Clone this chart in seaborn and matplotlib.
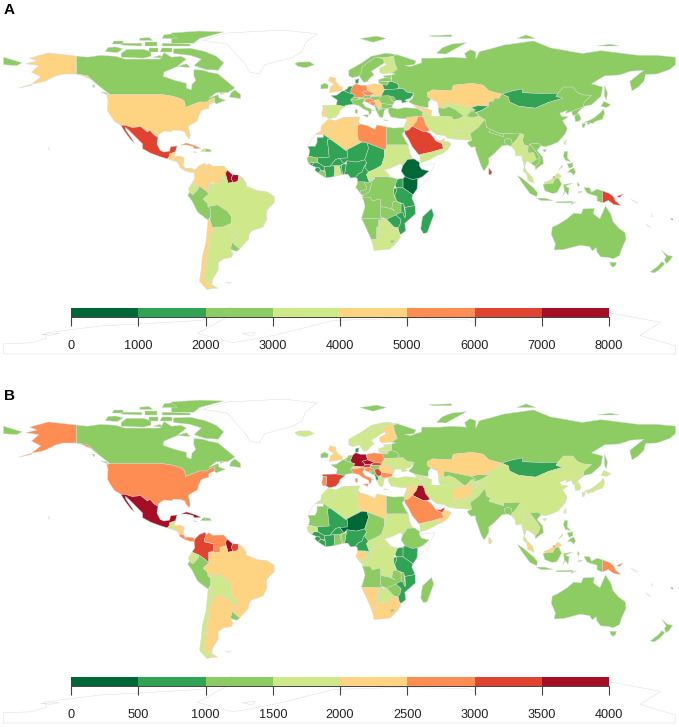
# World maps of two country level measures, binned into eight colour classes
import numpy as np
import pandas as pd
import matplotlib.pyplot as plt
import seaborn as sns
from matplotlib.colors import ListedColormap

sns.set_theme(style="white")
plt.rcParams['font.family'] = ['Liberation Sans', 'DejaVu Sans']

nan = float("nan")

# -----------------------------
# Data
# -----------------------------
north_america = ["Canada", "USA", "Mexico", "Guatemala", "Belize", "Honduras", "El Salvador", "Nicaragua",
                 "Costa Rica", "Panama", "Cuba", "Haiti", "Dominican Rep", "Jamaica"]
north_america_a = [2500, 4500, 6500, 4500, 4500, 4500, 4500, 4500, 4500, 4500, 5500, 3500, 2500, 3500]
north_america_b = [1250, 2750, 3750, 1750, 1750, 2250, 1750, 2250, 2750, 2750, 3750, 1250, 1250, 1750]

south_america = ["Colombia", "Venezuela", "Guyana", "Suriname", "French Guiana", "Ecuador", "Peru", "Bolivia",
                 "Brazil", "Paraguay", "Uruguay", "Argentina", "Chile"]
south_america_a = [4500, 4500, 7500, 7500, 3500, 3500, 2500, 2500, 3500, 3500, 2500, 3500, 4500]
south_america_b = [3250, 2750, 3750, 3250, 2250, 1750, 1250, 1750, 2250, 1750, 1250, 2250, 1750]

europe = ["Iceland", "Ireland", "UK", "Norway", "Sweden", "Finland", "Denmark", "Estonia", "Latvia", "Lithuania",
          "Belarus", "Ukraine", "Moldova", "Poland", "Germany", "France", "Benelux", "Switzerland", "Austria",
          "Czechia", "Slovakia", "Hungary", "Italy", "Spain", "Portugal", "Croatia", "Bosnia", "Serbia",
          "Montenegro", "Albania", "Macedonia", "Greece", "Bulgaria", "Romania", "Turkey", "Russia"]
europe_a = [2500, 2500, 4500, 2500, 2500, 3500, 1500, 2500, 2500, 2500,
            1500, 1500, 2500, 4500, 5500, 1500, 1500, 2500, 2500,
            5500, 4500, 2500, 2500, 3500, 4500, 5500, 5500, 4500,
            2500, 2500, 3500, 2500, 2500, 2500, 2500, 2500]
europe_b = [1750, 1250, 2250, 1750, 1750, 2250, 750, 1750, 1750, 1750,
            1250, 1750, 1750, 2750, 3750, 1250, 1250, 2250, 3250,
            3750, 3250, 1250, 2750, 3250, 2750, 2750, 1250, 3250,
            750, 750, 1750, 1750, 2750, 2250, 1750, 1250]

west_asia = ["Kazakhstan", "Uzbekistan", "Turkmenistan", "Kyrgyzstan", "Tajikistan", "Afghanistan", "Pakistan",
             "Iran", "Azerbaijan", "Georgia", "Armenia", "Iraq", "Syria", "Jordan", "Levant", "Saudi Arabia",
             "UAE", "Oman", "Yemen"]
west_asia_a = [4500, 3500, 2500, 1500, 2500, 3500, 3500, 3500, 4500, 4500, 4500, 5500, 4500, 4500, 3500, 6500,
               4500, 3500, 3500]
west_asia_b = [2250, 1250, 1750, 1250, 1750, 2250, 1750, 1750, 1750, 1750, 1750, 3750, 2250, 2250, 1750, 2750,
               3250, 2250, 1750]

africa = ["Egypt", "Libya", "Tunisia", "Algeria", "Morocco", "Western Sahara", "Mauritania", "Mali", "Niger",
          "Chad", "Sudan", "South Sudan", "Eritrea", "Ethiopia", "Somalia", "Kenya", "Uganda", "Tanzania",
          "Rwanda", "DRC", "Zambia", "Angola", "Namibia", "Botswana", "Zimbabwe", "Malawi", "Mozambique",
          "South Africa", "Lesotho", "Madagascar", "Gabon", "Congo", "Cameroon", "CAR", "Nigeria", "Benin",
          "Togo", "Ghana", "Burkina Faso", "Ivory Coast", "Liberia", "Sierra Leone", "Guinea", "Guinea-Bissau",
          "Senegal"]
africa_a = [2500, 5500, 4500, 4500, 4500, nan, 1500, 1500, 1500,
            1500, 3500, nan, 3500, 500, nan, 500, 1500, 1500,
            1500, 2500, 2500, 2500, 2500, 3500, 1500, 1500, 1500,
            3500, 2500, 1500, 2500, 2500, 1500, 3500, 1500, 1500,
            1500, 3500, 1500, 1500, 2500, 1500, 1500, 1500,
            2500]
africa_b = [1250, 2250, 1750, 1750, 1750, nan, 1250, 750, 250,
            1250, 1750, nan, 1750, 1250, nan, 750, 750, 750,
            750, 1750, 1250, 1250, 2250, 1750, 1250, 1250, 750,
            2250, 1250, 1250, 2250, 1750, 750, 1750, 750, 1250,
            1250, 1250, 750, 750, 750, 750, 750, 1750,
            1750]

east_asia_pacific = ["Mongolia", "China", "North Korea", "South Korea", "Japan", "Taiwan", "India", "Nepal",
                     "Bangladesh", "Sri Lanka", "Myanmar", "Thailand", "Laos", "Vietnam", "Cambodia", "Malaysia",
                     "Brunei", "Indonesia", "Papua New Guinea", "Philippines", "Australia", "New Zealand", "Fiji"]
east_asia_pacific_a = [1500, 2500, 2500, 2500, 2500, 3500, 2500, 2500, 2500, 6500, 3500, 3500, 2500, 2500, 2500,
                       3500, 7500, 2500, 6500, 2500, 2500, 2500, 7500]
east_asia_pacific_b = [750, 1750, 1750, 1750, 1750, 1750, 1250, 1750, 1250, 2250, 1750, 1750, 1750, 1250, 1750,
                       2250, 3750, 1250, 2750, 1250, 1250, 1250, 3750]

no_data = ["Greenland", "Antarctica", "Falklands", "New Caledonia", "Hawaii", "Solomon Islands", "Vanuatu"]
no_data_a = [nan] * len(no_data)
no_data_b = [nan] * len(no_data)

colorbar_max = [8000, 4000]
colorbar_ticks_a = [0, 1000, 2000, 3000, 4000, 5000, 6000, 7000, 8000]
colorbar_ticks_b = [0, 500, 1000, 1500, 2000, 2500, 3000, 3500, 4000]
panel_letters = ["A", "B"]
class_colors = ["#006837", "#31a354", "#8ccc63", "#cfe98a", "#fed482", "#fd8d52", "#e0432f", "#a50f26"]

# Rough country outlines as lon/lat rings (no map data package is available)
outlines = {
    "Canada": [
        [(-141, 69.6), (-135, 69), (-128, 70), (-120, 69.5), (-115, 68), (-108, 68), (-100, 68), (-96, 68),
         (-94, 71.5), (-90, 69), (-85, 69.5), (-82, 68), (-87, 64), (-94, 61), (-94.5, 58.8), (-88, 56.5),
         (-82, 55), (-82, 52.5), (-79.5, 51.5), (-79, 54.5), (-77, 56.5), (-78, 59), (-78, 62.4), (-73, 62),
         (-70, 61), (-65, 60), (-62, 57.5), (-56, 52.5), (-60, 50), (-66, 50), (-70, 47), (-65, 49), (-64.5, 47),
         (-61, 46), (-66, 44), (-67, 45), (-67, 47.3), (-70, 46), (-71, 45), (-75, 45), (-79, 43.5), (-82.5, 42),
         (-83, 45), (-84.5, 46.5), (-89, 48), (-95, 49), (-123, 49), (-130, 54.5), (-135, 59), (-141, 60)],
        [(-62, 66), (-65, 62), (-72, 62.5), (-78, 64.5), (-74, 68), (-80, 70), (-89, 71), (-89, 73.5), (-80, 73.8),
         (-72, 72), (-66, 69.5)],
        [(-117, 71), (-117, 69), (-105, 68.5), (-101, 69.5), (-101, 72), (-105, 73.2), (-114, 73.2)],
        [(-90, 76.5), (-78, 76.5), (-75, 79), (-62, 82.5), (-75, 83), (-90, 82)],
        [(-125.5, 72), (-119, 71.5), (-116, 73.5), (-120, 74.5), (-124, 74.2)],
        [(-95, 75), (-80, 75), (-80, 76), (-95, 76.5)],
        [(-59, 47.7), (-53, 46.8), (-53, 49), (-56, 51.5), (-58, 50)],
        [(-128, 50.5), (-123.5, 48.5), (-125, 50)],
        [(-95, 79), (-87, 79), (-90, 81.5), (-94, 81)],
        [(-117, 75.5), (-106, 75), (-106, 76.5), (-116, 76.5)],
        [(-87, 64), (-80, 63.5), (-82, 65.5)],
        [(-102, 72), (-97, 72), (-97, 74), (-102, 74)],
        [(-96, 72), (-90, 72), (-90, 74), (-95, 74)],
        [(-122, 76), (-116, 76), (-116, 77.5), (-121, 77.5)],
        [(-100, 69), (-95, 68.5), (-96, 70)],
        [(-104, 75), (-98, 75), (-98, 77), (-104, 77)],
        [(-107, 78), (-100, 78), (-102, 79.5), (-107, 79.2)],
        [(-64, 49.9), (-61.8, 49.3), (-64, 49.2)],
        [(-132.5, 54), (-131, 54), (-131.5, 52.5)]],
    "USA": [
        [(-123, 49), (-95, 49), (-89, 48), (-84.5, 46.5), (-83, 45), (-82.5, 42), (-79, 43.5), (-75, 45), (-71, 45),
         (-70, 46), (-67, 47.3), (-67, 45), (-70, 43.5), (-70, 41.7), (-74, 40.5), (-75.5, 37.5), (-76, 35),
         (-81, 32), (-80, 27), (-80.5, 25.2), (-82, 27), (-83, 29), (-85, 29.7), (-89, 30), (-90, 29), (-94, 29.5),
         (-97, 27.5), (-97.2, 26), (-99.5, 27.5), (-101.5, 29.8), (-103, 29), (-106.5, 31.8), (-111, 31.3),
         (-114.8, 32.5), (-117.1, 32.5), (-120.5, 34.5), (-122.5, 37.5), (-124.3, 40.5), (-124, 46), (-124.7, 48.4)],
        [(-141, 69.6), (-141, 60), (-135, 59), (-130, 54.5), (-133, 57), (-140, 60), (-148, 60), (-152, 59),
         (-158, 56), (-165, 54.5), (-160, 58.5), (-165, 61), (-161, 64.5), (-168, 65.5), (-162, 67), (-166, 68.5),
         (-156, 71.3)],
        [(-165, 54.5), (-172, 52.4), (-165, 53.9)]],
    "Mexico": [
        [(-117.1, 32.5), (-114.8, 32.5), (-111, 31.3), (-106.5, 31.8), (-103, 29), (-101.5, 29.8), (-99.5, 27.5),
         (-97.2, 26), (-97.8, 22.5), (-96, 19), (-94, 18.2), (-91, 18.7), (-90.5, 21), (-87, 21.5), (-88, 18),
         (-89, 17.9), (-91, 17.2), (-91, 16), (-92.2, 14.5), (-96, 15.7), (-101, 17.5), (-105.5, 20), (-105.5, 22.5),
         (-109, 26), (-112.5, 29.5), (-114.7, 31.5), (-114.5, 30), (-111, 25), (-110, 23), (-112, 25), (-115, 29)]],
    "Guatemala": [[(-92.2, 14.5), (-91, 16), (-91, 17.2), (-89, 17.9), (-89, 15.9), (-88.3, 15.7), (-89.3, 14.4),
                   (-90.5, 13.9)]],
    "Belize": [[(-89, 17.9), (-88, 18.4), (-88.3, 16), (-89, 15.9)]],
    "Honduras": [[(-88.3, 15.7), (-85, 16), (-83.2, 15), (-85, 14), (-87.3, 13), (-89.3, 14.4)]],
    "El Salvador": [[(-89.3, 14.4), (-87.8, 13.9), (-87.8, 13.2), (-90, 13.7)]],
    "Nicaragua": [[(-87.3, 13), (-85, 14), (-83.2, 15), (-83.7, 11), (-85.7, 11.1)]],
    "Costa Rica": [[(-85.7, 11.1), (-83.7, 11), (-82.6, 9.5), (-83, 8.3), (-85.7, 10)]],
    "Panama": [[(-83, 8.3), (-82.6, 9.5), (-79.5, 9.6), (-77.4, 8.7), (-77.9, 7.2), (-80, 7.3)]],
    "Cuba": [[(-85, 21.9), (-82, 23.1), (-77, 21.5), (-74.2, 20.2), (-77.7, 19.9), (-78.5, 21.2), (-82, 22)]],
    "Haiti": [[(-74.4, 18.5), (-71.7, 18.3), (-71.7, 19.9), (-73, 19.9)]],
    "Dominican Rep": [[(-71.7, 18.3), (-68.5, 18.5), (-69.5, 19.7), (-71.7, 19.9)]],
    "Jamaica": [[(-78.3, 18.4), (-76.3, 18.1), (-77.5, 17.8)]],
    "Colombia": [[(-77.4, 8.7), (-75, 11), (-72, 12.2), (-71.4, 11), (-72.5, 8), (-72, 7), (-67.5, 6), (-67.5, 2),
                  (-70, 1.5), (-70, -4.2), (-72, -2.3), (-75.3, 0), (-79, 1.5), (-77.5, 4), (-77.9, 7.2)]],
    "Venezuela": [[(-71.4, 11), (-70, 12), (-68, 10.6), (-62, 10.7), (-60, 8.5), (-61, 7), (-60.7, 5), (-64, 4),
                   (-64, 1.5), (-67, 1.2), (-67.5, 2), (-67.5, 6), (-72, 7), (-72.5, 8)]],
    "Guyana": [[(-60, 8.5), (-57.2, 6), (-58, 4), (-57, 2), (-59.7, 1.5), (-60.7, 5), (-61, 7)]],
    "Suriname": [[(-57.2, 6), (-54, 5.9), (-54.5, 2.3), (-57, 2), (-58, 4)]],
    "French Guiana": [[(-54, 5.9), (-51.7, 4.2), (-54.5, 2.3)]],
    "Ecuador": [[(-79, 1.5), (-75.3, 0), (-75.5, -1.5), (-78.5, -4.8), (-80.3, -3.4), (-81, -1.5)]],
    "Peru": [[(-80.3, -3.4), (-78.5, -4.8), (-75.5, -1.5), (-75.3, 0), (-72, -2.3), (-70, -4.2), (-73, -7),
              (-70.5, -9.5), (-70.5, -11), (-69, -12.5), (-69, -16), (-70.4, -18.3), (-76, -14), (-79, -8),
              (-81.3, -5)]],
    "Bolivia": [[(-70.5, -11), (-65.3, -10), (-60, -13.5), (-58, -16.3), (-58, -20), (-62.5, -22), (-66.5, -22),
                 (-68, -22.5), (-69.5, -18), (-69, -16), (-69, -12.5)]],
    "Brazil": [[(-51.7, 4.2), (-50, 1.5), (-50, 0), (-44, -2.5), (-39, -3), (-35, -5.5), (-35, -9), (-39, -13),
                (-39, -18), (-41, -22), (-47, -24), (-48.5, -26), (-48.7, -28.5), (-52, -32), (-53.5, -33.8),
                (-57.6, -30.2), (-54, -27), (-54.6, -25.5), (-55, -24), (-58, -22), (-58, -20), (-58, -16.3),
                (-60, -13.5), (-65.3, -10), (-70.5, -11), (-70.5, -9.5), (-73, -7), (-70, -4.2), (-70, 1.5),
                (-67, 1.2), (-64, 1.5), (-64, 4), (-60.7, 5), (-59.7, 1.5), (-57, 2), (-54.5, 2.3)]],
    "Paraguay": [[(-58, -20), (-58, -22), (-55, -24), (-54.6, -25.5), (-58, -27.3), (-58, -24.5), (-62.5, -22)]],
    "Uruguay": [[(-57.6, -30.2), (-53.5, -33.8), (-55, -35), (-58.4, -34)]],
    "Argentina": [
        [(-66.5, -22), (-62.5, -22), (-58, -24.5), (-58, -27.3), (-54.6, -25.5), (-54, -27), (-57.6, -30.2),
         (-58.4, -34), (-57, -36.5), (-58, -38.3), (-62, -39), (-65, -41), (-65, -45), (-68, -50), (-68.4, -52.5),
         (-71, -52), (-72.5, -50), (-71.5, -44), (-71, -38), (-70, -33), (-69.5, -28), (-68, -24.5), (-68, -22.5)],
        [(-68.6, -52.7), (-65.2, -54.8), (-68.6, -54.9)]],
    "Chile": [[(-69.5, -18), (-68, -22.5), (-68, -24.5), (-69.5, -28), (-70, -33), (-71, -38), (-71.5, -44),
               (-72.5, -50), (-71, -52), (-68.4, -52.5), (-68.6, -54.9), (-71, -55.5), (-75, -51), (-74, -44),
               (-73.5, -38), (-71.5, -30), (-70.4, -18.3)]],
    "Iceland": [[(-24, 65.5), (-22, 64), (-18, 63.4), (-13.5, 65), (-16, 66.5), (-22, 66.4)]],
    "Ireland": [[(-10, 52), (-6.2, 52.2), (-6, 54), (-8, 55.2), (-10, 54)]],
    "UK": [[(-5.5, 50), (1.5, 51.2), (1.7, 52.7), (0, 53.5), (-2, 56), (-2, 57.7), (-5, 58.6), (-6, 56.5), (-3, 54.5),
            (-5, 53), (-5, 51.7)]],
    "Norway": [[(5, 59), (7, 58), (10.5, 59), (12, 61), (12, 63.5), (15, 66), (18.5, 68.5), (24, 68.7), (29, 69.5),
                (31, 70.3), (25, 71.2), (17, 69.5), (12, 66), (5, 62)]],
    "Sweden": [[(10.5, 59), (13, 55.5), (15, 56), (16.5, 58), (18.5, 59.5), (17, 61.5), (21, 64), (24, 66), (23.5, 68),
                (20.5, 69), (18.5, 68.5), (15, 66), (12, 63.5), (12, 61)]],
    "Finland": [[(24, 66), (25, 65), (21.5, 63), (21.5, 61), (23, 60), (28, 60.5), (31, 62.5), (29.5, 66.5), (29, 69.5),
                 (24, 68.7), (20.5, 69), (23.5, 68)]],
    "Denmark": [[(8.5, 57), (10.5, 57.5), (10, 55), (8.5, 55)]],
    "Estonia": [[(23.5, 59), (28, 59.5), (27.5, 57.7), (24.3, 58)]],
    "Latvia": [[(21, 57), (24.3, 58), (27.5, 57.7), (28, 56), (21, 56.2)]],
    "Lithuania": [[(21, 56.2), (26.5, 55.7), (25.5, 54), (23, 54.3), (21, 55.3)]],
    "Belarus": [[(23.5, 52), (23, 54.3), (25.5, 54), (26.5, 55.7), (28, 56), (31, 55), (32, 53), (31, 52), (26, 51.7)]],
    "Ukraine": [[(24, 51.5), (26, 51.7), (31, 52), (34, 52.3), (36, 50.4), (40, 49.6), (38, 47), (35, 46), (36.5, 45.3),
                 (33.7, 44.4), (33, 46), (30.5, 46), (29, 45.3), (28, 46), (26.5, 48.3), (22.3, 48.2)]],
    "Moldova": [[(26.7, 48.3), (29, 47.8), (30, 46.5), (28.2, 45.5)]],
    "Poland": [[(14.2, 53.9), (18.5, 54.7), (23, 54.3), (24, 51.5), (22.6, 49.1), (19, 49.4), (15, 51), (14.7, 52.5)]],
    "Germany": [[(6, 51), (7, 53.5), (8.8, 54.8), (11, 54), (14.2, 53.9), (15, 51), (12.2, 50.2), (13.7, 48.6),
                 (13, 47.5), (7.6, 47.6), (8, 49), (6.2, 49.5)]],
    "France": [[(-4.7, 48.4), (-1.5, 48.7), (1.5, 50.9), (2.5, 51), (6.2, 49.5), (8, 49), (7.6, 47.6), (6, 46.2),
                (7.5, 43.8), (3, 43.2), (3, 42.5), (-1.7, 43.4), (-1.2, 46)]],
    "Benelux": [[(2.5, 51), (4, 52), (5, 53.4), (7, 53.5), (6, 51), (6.2, 49.5)]],
    "Switzerland": [[(6, 46.2), (7.6, 47.6), (10, 47.4), (10.4, 46.5), (8.5, 46)]],
    "Austria": [[(9.6, 47.4), (13, 47.5), (13.7, 48.6), (17, 48.7), (16.2, 46.8), (12, 46.8)]],
    "Czechia": [[(12.2, 50.2), (15, 51), (18.7, 49.6), (17, 48.7), (13.7, 48.6)]],
    "Slovakia": [[(17, 48.7), (18.7, 49.6), (22.6, 49.1), (22.3, 48.2), (18, 47.8)]],
    "Hungary": [[(16.2, 46.8), (17, 48), (18, 47.8), (22.3, 48.2), (21, 46.2), (18.5, 45.9)]],
    "Italy": [
        [(7.5, 43.8), (6, 46.2), (8.5, 46), (10.4, 46.5), (12, 46.8), (13.7, 46.4), (12.3, 44.5), (14, 42.3), (16, 41.7),
         (18.5, 40.2), (17, 40.5), (17, 39), (16, 38), (15.6, 40), (12.5, 41.5), (10.5, 43)],
        [(12.5, 38), (15.6, 38.2), (15, 36.7)],
        [(8.3, 41), (9.7, 41), (9.5, 39), (8.5, 39)]],
    "Spain": [[(-9.2, 43.2), (-1.7, 43.4), (3, 42.5), (0.3, 40.5), (-0.3, 38.7), (-2, 36.8), (-5.5, 36), (-7.4, 37.2),
               (-7, 38.5), (-7, 42), (-8.8, 42)]],
    "Portugal": [[(-8.8, 42), (-7, 42), (-7, 38.5), (-7.4, 37.2), (-9, 37), (-9.5, 38.8)]],
    "Croatia": [[(13.7, 46.4), (16.2, 46.8), (18.5, 45.9), (19, 45), (15.8, 45), (17.8, 43), (15, 44.8), (13.6, 45.2)]],
    "Bosnia": [[(15.8, 45), (19, 45), (19.3, 43.5), (17.8, 43)]],
    "Serbia": [[(18.5, 45.9), (21, 46.2), (22.6, 44.5), (22.5, 42.5), (20.5, 42.2), (19.3, 43.5), (19, 45)]],
    "Montenegro": [[(18.5, 42.5), (19.3, 43.5), (20.5, 42.2), (19.3, 42)]],
    "Albania": [[(19.3, 42.3), (20.5, 42.2), (21, 40.5), (20, 39.7), (19.3, 41)]],
    "Macedonia": [[(20.5, 42.2), (22.5, 42.5), (23, 41.3), (21, 40.9)]],
    "Greece": [[(21, 40.9), (23, 41.3), (26.3, 41.7), (24, 40.7), (23.5, 38), (23, 36.5), (21.5, 37), (20, 39.7),
                (21, 40.5)],
               [(23.5, 35.5), (26.3, 35.2), (24.5, 35)]],
    "Bulgaria": [[(22.6, 44.2), (28.5, 43.6), (28, 42), (26.3, 41.7), (23, 41.3), (22.5, 42.5)]],
    "Romania": [[(21, 46.2), (22.3, 48.2), (26.5, 48.3), (28.2, 45.5), (29.5, 45), (28.5, 43.6), (22.6, 44.2)]],
    "Turkey": [[(26, 40), (26.3, 41.7), (28, 42), (31, 41.2), (35, 42), (41.5, 41.5), (44.7, 39.7), (44.5, 37.2),
                (42, 37.2), (36, 36.8), (36, 36), (33, 36.1), (30.5, 36.5), (27.5, 37)]],
    "Russia": [
        [(28, 59.5), (30, 60), (28, 60.5), (31, 62.5), (29.5, 66.5), (29, 69.5), (31, 70.3), (41, 67), (40, 65), (35, 64.5),
         (38, 64), (44, 66), (44, 68.5), (54, 68.5), (60, 69), (68, 68.5), (67, 71), (70, 73), (73, 72), (73, 68), (75, 72),
         (81, 73.5), (88, 75.5), (104, 77.7), (113, 74), (130, 71), (140, 72.5), (160, 70), (170, 70), (180, 69), (180, 65),
         (177, 62.5), (170, 60), (164, 59.8), (163, 56), (160, 53), (156.7, 51), (155.5, 56), (163, 62), (156, 61.5),
         (150, 59.5), (142, 59), (135, 54.7), (141, 53), (140, 48), (135, 43.5), (131, 42.7), (130.7, 42.3), (131, 45),
         (135, 48.5), (130.5, 48.8), (127.5, 50), (125, 53), (120, 53), (117, 49.7), (108, 49.5), (98, 50), (98, 52),
         (92, 50.8), (87, 49.2), (80, 51), (77, 54), (71, 55), (61, 54), (60, 51), (50, 51.5), (47, 50), (47, 48), (49, 46.5),
         (47.5, 45), (47.5, 42), (44, 42.5), (40, 43.5), (37, 45), (39, 47), (40, 49.6), (36, 50.4), (34, 52.3), (31, 52),
         (32, 53), (31, 55), (28, 56)],
        [(-180, 69), (-175, 67.5), (-170, 66), (-173, 64.5), (-180, 65)],
        [(142, 54), (143.5, 50), (143, 46), (142, 48)],
        [(52, 71), (57, 70.7), (68, 76.8), (60, 76), (55, 74)],
        [(11, 79), (18, 77), (25, 79), (20, 80.3)],
        [(48, 80.5), (60, 81), (60, 80), (50, 80)],
        [(95, 79), (105, 79), (100, 81)],
        [(138, 75), (150, 75), (145, 76)]],
    "Kazakhstan": [[(47, 50), (50, 51.5), (60, 51), (61, 54), (71, 55), (77, 54), (80, 51), (87, 49.2), (85.5, 47), (83, 47),
                    (82.5, 45.5), (80, 45), (80, 42.8), (74, 43), (70.5, 42), (66, 43), (61, 44), (56, 45), (56, 41.5), (53, 42),
                    (52.5, 45), (49, 46.5), (47, 48)]],
    "Uzbekistan": [[(56, 41.5), (56, 45), (61, 44), (66, 43), (70.5, 42), (73, 40.7), (70.5, 40.2), (67.8, 37.2), (66.5, 37.4),
                    (62, 41), (58.5, 42.5)]],
    "Turkmenistan": [[(53, 42), (56, 41.5), (58.5, 42.5), (62, 41), (66.5, 37.4), (64, 36), (61, 35.6), (60, 37), (54, 37.3),
                      (53, 40)]],
    "Kyrgyzstan": [[(70.5, 42), (74, 43), (80, 42.8), (76, 40.4), (73, 39.5), (70.5, 40.2), (73, 40.7)]],
    "Tajikistan": [[(70.5, 40.2), (73, 39.5), (75, 37.4), (71.5, 36.7), (67.8, 37.2)]],
    "Afghanistan": [[(61, 35.6), (64, 36), (66.5, 37.4), (67.8, 37.2), (71.5, 36.7), (75, 37.4), (71, 35), (70, 32), (66.5, 30),
                     (61, 29.5), (60.8, 31.5)]],
    "Pakistan": [[(61, 29.5), (66.5, 30), (70, 32), (71, 35), (75, 37.4), (77.8, 35.5), (74.5, 31.5), (70, 28), (71, 24.5),
                  (67, 24.7), (61.6, 25.1), (63.3, 27)]],
    "Iran": [[(44.7, 39.7), (48, 39), (49, 37.5), (54, 37.3), (60, 37), (61, 35.6), (60.8, 31.5), (61, 29.5), (63.3, 27),
              (61.6, 25.1), (57.5, 25.8), (56.5, 27), (52, 27.5), (48.7, 30), (47.7, 31), (46, 33), (45.5, 35.5), (44.5, 37.2)]],
    "Azerbaijan": [[(44.7, 41.3), (47, 41.5), (49.5, 40.3), (49, 37.5), (48, 39), (45, 39.7)]],
    "Georgia": [[(40, 43.5), (44, 42.5), (46.5, 41.5), (43, 41), (41.5, 41.5)]],
    "Armenia": [[(43.5, 41), (45.5, 41), (46.5, 39), (44.7, 39.7)]],
    "Iraq": [[(44.5, 37.2), (45.5, 35.5), (46, 33), (47.7, 31), (48.5, 29.9), (46.5, 29.1), (44.7, 29.2), (39, 32), (41, 34.5),
              (42, 37.2)]],
    "Syria": [[(36, 36.8), (42, 37.2), (41, 34.5), (39, 32), (36.8, 32.3), (35.8, 34.6), (36, 36)]],
    "Jordan": [[(35.5, 32.4), (36.8, 32.3), (39, 32), (37, 30), (35, 29.5)]],
    "Levant": [[(35, 29.5), (35.5, 32.4), (36.8, 32.3), (35.8, 34.6), (34.3, 31.3)]],
    "Saudi Arabia": [[(35, 29.5), (37, 30), (39, 32), (44.7, 29.2), (46.5, 29.1), (48.5, 28.2), (50, 26.5), (51.5, 24.3),
                      (55, 22.7), (55.7, 20), (52, 19), (48.5, 18), (45, 17.3), (43, 16.7), (42.5, 16.7), (39, 21), (37, 25),
                      (35, 28)]],
    "UAE": [[(51.5, 24.3), (54, 24.2), (56.3, 25.5), (56, 24), (55, 22.7)]],
    "Oman": [[(55, 22.7), (56, 24), (58.5, 23.6), (59.8, 22.5), (58, 19.5), (55, 17.3), (53, 16.7), (52, 19), (55.7, 20)]],
    "Yemen": [[(43, 16.7), (45, 17.3), (48.5, 18), (52, 19), (53, 16.7), (48, 14), (45, 12.8), (43.4, 12.7)]],
    "Egypt": [[(25, 31.7), (29, 31), (32, 31.2), (34.3, 31.3), (35, 29.5), (33.5, 28), (35.5, 24), (36.9, 22), (25, 22)]],
    "Libya": [[(9.5, 30.2), (10, 33), (11.5, 33.2), (15, 32.3), (19, 30.3), (20, 32.7), (25, 31.7), (25, 20), (24, 19.5),
               (15, 23), (12, 23.5), (10, 24.5)]],
    "Tunisia": [[(8.3, 37), (11, 37), (10, 34.5), (11.5, 33.2), (10, 33), (9.5, 30.2), (8, 33)]],
    "Algeria": [[(-8.7, 27.7), (-8.7, 29), (-3, 31), (-2, 35), (2, 36.8), (8.3, 37), (8, 33), (9.5, 30.2), (10, 24.5), (12, 23.5),
                 (3.3, 19), (0, 21.5), (-4.8, 25)]],
    "Morocco": [[(-2, 35), (-6, 35.8), (-9.8, 32), (-10, 29.5), (-13, 27.7), (-8.7, 27.7), (-8.7, 29), (-3, 31)]],
    "Western Sahara": [[(-13, 27.7), (-8.7, 27.7), (-8.7, 26), (-12, 26), (-12, 23.5), (-13, 21.3), (-17, 21.3), (-16, 23.5)]],
    "Mauritania": [[(-17, 21.3), (-13, 21.3), (-12, 23.5), (-12, 26), (-8.7, 26), (-8.7, 27.7), (-4.8, 25), (-6.5, 25),
                    (-5.5, 15.5), (-12, 15), (-16.5, 16), (-16, 19)]],
    "Mali": [[(-4.8, 25), (0, 21.5), (3.3, 19), (4.2, 19), (4.2, 15), (0, 14.8), (-2, 14.2), (-5.3, 10.5), (-8, 10.3),
              (-11.5, 12.4), (-12, 15), (-5.5, 15.5), (-6.5, 25)]],
    "Niger": [[(4.2, 19), (3.3, 19), (12, 23.5), (15, 23), (15.5, 20), (13.5, 14), (9, 12.8), (4, 13.5), (2.3, 11.9), (0, 14.8),
               (4.2, 15)]],
    "Chad": [[(15, 23), (24, 19.5), (24, 15.5), (22.5, 11), (19, 9), (15.5, 7.5), (13.5, 10), (14.5, 12.5), (13.5, 14),
              (15.5, 20)]],
    "Sudan": [[(24, 19.5), (25, 20), (25, 22), (36.9, 22), (37.5, 18), (36.5, 14.3), (34, 11), (32.5, 12), (27, 9.5), (24, 8.7),
               (22.5, 11), (24, 15.5)]],
    "South Sudan": [[(24, 8.7), (27, 9.5), (32.5, 12), (34, 11), (33, 8), (35, 5), (34, 4), (31, 3.7), (28, 4.5), (25, 5)]],
    "Eritrea": [[(36.5, 14.3), (37.5, 18), (39, 15), (43, 12.5), (40, 14.5)]],
    "Ethiopia": [[(36.5, 14.3), (40, 14.5), (43, 12.5), (42.7, 11), (44, 9), (48, 8), (44.5, 5), (41.9, 3.9), (39, 3.5), (35.5, 4.5),
                  (33, 8), (34, 11)]],
    "Somalia": [[(42.7, 11), (51, 12), (47.5, 4), (41.5, -1.7), (41.9, 3.9), (44.5, 5), (48, 8), (44, 9)]],
    "Kenya": [[(34, 4), (35, 5), (39, 3.5), (41.9, 3.9), (41.5, -1.7), (39.3, -4.7), (34, -1), (34, 1)]],
    "Uganda": [[(31, 3.7), (34, 4), (34, 1), (34, -1), (30.5, -1), (29.7, 0.5)]],
    "Tanzania": [[(34, -1), (39.3, -4.7), (38.8, -6.5), (39.5, -8), (40.5, -10.5), (35, -11.5), (34.3, -9.6), (30.7, -8.2),
                  (29.5, -5), (30.7, -2.3), (30.5, -1)]],
    "Rwanda": [[(29, -1.4), (30.5, -1), (30.7, -2.3), (29.5, -5), (29, -4.3)]],
    "DRC": [[(12.2, -6), (13, -4.5), (14, -4.5), (16, -3), (17.8, 3.5), (18.5, 3.5), (19, 5), (25, 5), (28, 4.5), (31, 3.7),
             (29.7, 0.5), (29, -1.4), (29, -4.3), (29.5, -6), (30.7, -8.2), (28.7, -8.5), (28, -12), (29.8, -13.4), (27, -12),
             (22, -11), (21.8, -7), (17.5, -8), (16.5, -6)]],
    "Zambia": [[(22, -11), (27, -12), (29.8, -13.4), (28, -12), (28.7, -8.5), (30.7, -8.2), (33, -9.5), (33, -14), (30.2, -15.5),
                (28, -16.5), (25.3, -17.8), (22, -16.5)]],
    "Angola": [[(12.2, -6), (16.5, -6), (17.5, -8), (21.8, -7), (22, -11), (22, -16.5), (23, -17.6), (13.7, -17.3), (11.8, -17.3),
                (13.7, -11), (13, -8)]],
    "Namibia": [[(11.8, -17.3), (23, -17.6), (25.3, -17.8), (21, -18.3), (21, -22), (20, -22), (20, -28.4), (17, -28.7), (14.5, -23)]],
    "Botswana": [[(21, -18.3), (25.3, -17.8), (29.3, -22), (26, -25), (23, -25.5), (20, -25), (20, -22), (21, -22)]],
    "Zimbabwe": [[(25.3, -17.8), (28, -16.5), (30.2, -15.5), (33, -18), (32.5, -20.5), (31.3, -22.4), (29.3, -22)]],
    "Malawi": [[(33, -9.5), (34.3, -9.6), (35, -14), (35.5, -16), (35, -17), (34, -14.5), (33, -14)]],
    "Mozambique": [[(30.2, -15.5), (33, -14), (34, -14.5), (35, -17), (35.5, -16), (35, -11.5), (40.5, -10.5), (40.7, -15), (35, -20),
                    (35.5, -24), (32.8, -26), (32, -25), (31.3, -22.4), (32.5, -20.5), (33, -18)]],
    "South Africa": [[(17, -28.7), (20, -28.4), (20, -25), (23, -25.5), (26, -25), (29.3, -22), (31.3, -22.4), (32, -25), (32.8, -27),
                      (31, -30), (27, -33.8), (22, -34.3), (18.5, -34.5), (18, -32)]],
    "Lesotho": [[(27, -29.6), (29, -28.8), (29.3, -30), (28, -30.6)]],
    "Madagascar": [[(49.3, -12), (50.5, -15.5), (47, -25), (45, -25.5), (43.5, -23), (44.5, -16.5)]],
    "Gabon": [[(8.7, -0.7), (9.5, 1), (9.7, 2.3), (13.3, 2.2), (14.4, -0.5), (14.3, -2), (11.5, -2.5), (11, -3.7)]],
    "Congo": [[(11, -3.7), (12.2, -5), (14, -4.5), (16, -3), (17.8, 3.5), (16, 2), (13.3, 2.2), (14.4, -0.5), (14.3, -2), (11.5, -2.5)]],
    "Cameroon": [[(8.5, 4.6), (9.5, 4), (9.7, 2.3), (13.3, 2.2), (16, 2), (14.5, 6), (15.5, 7.5), (13.5, 10), (14.5, 12.5), (13, 10),
                  (12, 7.5), (10, 6.5)]],
    "CAR": [[(14.5, 6), (16, 2), (17.8, 3.5), (18.5, 3.5), (19, 5), (25, 5), (27.4, 5), (24, 8.7), (22.5, 11), (19, 9), (15.5, 7.5)]],
    "Nigeria": [[(2.7, 6.3), (4.5, 6.3), (6, 4.3), (8.5, 4.6), (10, 6.5), (12, 7.5), (13, 10), (14.5, 12.5), (13.5, 14), (9, 12.8),
                 (4, 13.5), (3.6, 11.6)]],
    "Benin": [[(1.6, 6.2), (2.7, 6.3), (3.6, 11.6), (2.3, 11.9), (0.9, 11)]],
    "Togo": [[(0.5, 6), (1.6, 6.2), (0.9, 11), (0, 11)]],
    "Ghana": [[(-3, 5), (1.2, 6), (0, 11), (-2.9, 11), (-2.8, 7.5)]],
    "Burkina Faso": [[(-5.3, 10.5), (-2.9, 11), (0, 11), (2.3, 11.9), (0, 14.8), (-2, 14.2)]],
    "Ivory Coast": [[(-7.5, 4.4), (-3, 5), (-2.8, 7.5), (-2.9, 11), (-5.3, 10.5), (-8, 10.3), (-7.7, 7.5)]],
    "Liberia": [[(-11.5, 7), (-7.5, 4.4), (-7.7, 7.5), (-10, 8.5)]],
    "Sierra Leone": [[(-13.3, 8.5), (-11.5, 7), (-10, 8.5), (-11, 10), (-12.5, 10)]],
    "Guinea": [[(-15, 11), (-12.5, 10), (-11, 10), (-10, 8.5), (-8, 8), (-8, 10.3), (-11.5, 12.4), (-13.7, 12.5)]],
    "Guinea-Bissau": [[(-16.7, 12.3), (-13.7, 12.5), (-15, 11)]],
    "Senegal": [[(-17.5, 14.7), (-16.5, 16), (-12, 15), (-11.5, 12.4), (-13.7, 12.5), (-16.7, 12.3)]],
    "Mongolia": [[(87, 49.2), (92, 50.8), (98, 52), (98, 50), (108, 49.5), (117, 49.7), (116, 48), (119.8, 47), (112, 44.8), (105, 41.7),
                  (96, 42.7), (91, 45), (90.5, 47.7)]],
    "China": [
        [(73.5, 39.5), (76, 40.4), (80, 42.8), (80, 45), (82.5, 45.5), (83, 47), (85.5, 47), (87, 49.2), (90.5, 47.7), (91, 45), (96, 42.7),
         (105, 41.7), (112, 44.8), (119.8, 47), (116, 48), (117, 49.7), (120, 53), (125, 53), (127.5, 50), (130.5, 48.8), (135, 48.5), (131, 45),
         (130.7, 42.3), (128, 41.5), (124.3, 40), (121, 38.8), (122, 40.5), (118, 39), (119, 37.3), (122.5, 37), (119.5, 35), (122, 31), (121, 28),
         (117, 23.5), (113.5, 22), (110, 21), (108, 21.6), (106.5, 22.8), (102, 22.5), (101.5, 21.2), (99, 22), (98, 24.2), (98.7, 27.5), (92, 28),
         (86, 28), (81, 30.3), (78.8, 31.5), (78, 35.5), (75, 37.4)],
        [(108.7, 19.3), (111, 19.7), (110, 18.2)]],
    "North Korea": [[(124.3, 40), (128, 41.5), (130.7, 42.3), (128, 40), (127.5, 39), (128.3, 38.6), (125, 37.7)]],
    "South Korea": [[(126, 37.7), (128.3, 38.6), (129.4, 36), (128.5, 34.8), (126.3, 34.5)]],
    "Japan": [
        [(130.9, 34), (135, 35.7), (137, 37), (140, 39.5), (141.3, 41.3), (142, 39), (140.8, 35.7), (137, 34.6), (135.7, 33.5), (132, 34)],
        [(130, 33.5), (131.8, 33.5), (131, 31.2), (130, 31.5)],
        [(132.5, 33.9), (134.5, 34.2), (134, 33.3), (133, 32.8)],
        [(140, 42.7), (141.7, 45.4), (145.3, 43.5), (143, 42), (141, 42.5)]],
    "Taiwan": [[(120, 23), (121.5, 25.2), (121, 22)]],
    "India": [[(68.5, 23.5), (71, 24.5), (70, 28), (74.5, 31.5), (77.8, 35.5), (78, 35.5), (78.8, 31.5), (81, 30.3), (80, 28.8), (88, 26.4),
               (88, 28), (92, 28), (97, 28.2), (95, 25), (93.3, 23), (92.5, 22.5), (92, 25), (89.8, 25.5), (88.3, 24.5), (89, 21.8), (87, 21.5),
               (82, 16.5), (80, 15), (80, 12), (77.5, 8), (76, 10.5), (73, 19), (72.7, 21), (70.5, 20.8), (69, 22.2)]],
    "Nepal": [[(80, 28.8), (81, 30.3), (86, 28), (88, 28), (88, 26.4)]],
    "Bangladesh": [[(88.3, 24.5), (89.8, 25.5), (92, 25), (92.5, 22.5), (92, 21.2), (90, 22), (89, 21.8)]],
    "Sri Lanka": [[(80, 9.7), (81.8, 7.5), (81, 6), (80, 6)]],
    "Myanmar": [[(92.5, 22.5), (93.3, 23), (95, 25), (97, 28.2), (98.7, 27.5), (98, 24.2), (99, 22), (101.5, 21.2), (100, 20.2), (97.5, 18.5),
                 (98.5, 14), (99, 10.5), (98, 14), (97.5, 16.5), (94.5, 16), (94, 19), (92.3, 20.8)]],
    "Thailand": [[(100, 20.2), (101, 21.3), (101, 17.7), (104, 18), (105.5, 14.3), (102.5, 12.2), (100.8, 13.3), (100, 13.3), (99.2, 10),
                  (100.5, 7.5), (102, 6.2), (100.2, 6.5), (98.3, 8), (99, 10.5), (98.5, 14), (97.5, 18.5)]],
    "Laos": [[(101.5, 21.2), (102, 22.5), (104, 20), (107, 16), (107.5, 14.8), (105.5, 14.3), (104, 18), (101, 17.7), (101, 21.3)]],
    "Vietnam": [[(102, 22.5), (106.5, 22.8), (108, 21.6), (105.8, 19), (108.8, 15.5), (109.3, 12), (106.8, 10.3), (105, 8.7), (104.8, 10.5),
                 (106.5, 12), (107.5, 14.8), (107, 16), (104, 20)]],
    "Cambodia": [[(102.5, 12.2), (105.5, 14.3), (107.5, 14.8), (106.5, 12), (104.8, 10.5)]],
    "Malaysia": [
        [(100.2, 6.5), (102, 6.2), (103.5, 4.5), (104.2, 1.4), (101, 3)],
        [(109.6, 2), (111.3, 2.5), (113, 3.2), (115, 5), (117, 7), (119, 5.2), (117.5, 4.2), (115.5, 4), (114.5, 1.5), (110, 1)]],
    "Brunei": [[(114.2, 4.9), (115.2, 5), (115, 4.2)]],
    "Indonesia": [
        [(95.3, 5.6), (98, 4), (104, -1), (106, -3.5), (105.7, -5.8), (102, -4), (98, 1.5)],
        [(109, 1), (110, 1), (114.5, 1.5), (115.5, 4), (117.5, 4.2), (119, 1), (116.5, -3.5), (114, -4), (110, -2.5)],
        [(105.3, -6.5), (110, -6.5), (114.5, -7.8), (108, -7.8)],
        [(119.5, -5.5), (120.5, -3), (120, 0.8), (125, 1.5), (121, 0), (123, -1), (122.5, -5), (121, -3)],
        [(131, -0.8), (134, -1), (135, -3.3), (138, -1.7), (141, -2.6), (141, -9.1), (138, -8), (138, -5.5), (133, -4), (132, -2.8)],
        [(116, -8.5), (119, -8.3), (125, -8.2), (125, -9), (119, -9), (116, -9)],
        [(124, -10), (127, -8.4), (124.5, -9.2)],
        [(127.5, 2), (128.5, 1), (128, -0.5), (127.5, 0.5)],
        [(128, -3), (130.5, -3), (128, -3.7)]],
    "Papua New Guinea": [
        [(141, -2.6), (145, -4.2), (147, -6), (147.8, -8), (150.8, -10.4), (147, -10), (144, -7.7), (141, -9.1)],
        [(148.5, -5.6), (152, -4.2), (150, -6.3)]],
    "Philippines": [
        [(120.5, 18.5), (122.2, 18.5), (122, 15), (124, 13), (121, 13.8), (120, 16)],
        [(122, 7), (123.5, 8.7), (125.5, 9.7), (126.5, 7.5), (125.5, 5.8), (123.8, 7.5)],
        [(122, 11.8), (125, 12.5), (125, 10.2), (123, 9.5)],
        [(117.3, 8.4), (119.5, 11.3), (119.5, 10.5)]],
    "Australia": [
        [(113.5, -26), (114, -22), (117, -20.7), (122, -17.5), (125.5, -14.5), (129.5, -15), (130.5, -12.3), (136.5, -12), (136, -15),
         (139.5, -17.5), (141.5, -13), (142.5, -10.7), (145.3, -15), (146.5, -19), (149.5, -22.5), (153, -25), (153.5, -28.5), (151, -34),
         (150, -37.3), (146.5, -39), (144, -38.2), (140, -38), (138, -35.5), (137.5, -33), (135.5, -34.8), (134, -32.5), (129, -31.7), (124, -33),
         (120, -34), (115, -34.3), (115.7, -31)],
        [(144.8, -40.8), (148.3, -40.9), (148, -42.5), (146.5, -43.6), (145.3, -42.5)]],
    "New Zealand": [
        [(172.7, -34.5), (175.5, -37), (178.5, -37.7), (176.5, -40.5), (175, -41.6), (174, -39.5), (175, -38)],
        [(172.7, -40.5), (174.3, -41.7), (171, -45), (168.5, -46.6), (166.5, -46), (170.5, -43)]],
    "Fiji": [[(177.3, -17.5), (178.7, -17.6), (178.3, -18.3)]],
    "Greenland": [[(-73, 78), (-60, 76), (-55, 70), (-51, 66), (-48, 61), (-43, 60), (-40, 65), (-25, 69), (-20, 72), (-18, 77), (-12, 81.5),
                   (-30, 83.5), (-60, 82), (-68, 80)]],
    "Antarctica": [
        [(-180, -84.5), (-165, -84), (-157, -81.5), (-158, -78.8), (-128, -75), (-100, -73.5), (-74, -72), (-58, -65), (-60, -70),
         (-76, -79), (-57, -84), (-35, -80), (-3, -72), (30, -71), (68, -71.5), (72, -73), (75, -70), (100, -66), (145, -68), (172, -73),
         (161, -80), (180, -85.7), (180, -90), (-180, -90)],
        [(-52, -79), (-45, -78.5), (-47, -80.5)],
        [(-160, -79.5), (-150, -79), (-155, -80)]],
    "Falklands": [[(-61, -51.5), (-58, -51.5), (-59, -52.2)]],
    "New Caledonia": [[(164, -20.2), (167, -22.3), (165.5, -21.8)]],
    "Hawaii": [[(-156, 20.8), (-155, 19.8), (-155.7, 19)]],
    "Solomon Islands": [[(156, -7), (160, -9), (159, -9.2)]],
    "Vanuatu": [[(167, -15), (168, -16.5), (167.3, -16.3)]],
}

# -----------------------------
# Build one table per panel
# -----------------------------
countries = north_america + south_america + europe + west_asia + africa + east_asia_pacific + no_data
values_a = north_america_a + south_america_a + europe_a + west_asia_a + africa_a + east_asia_pacific_a + no_data_a
values_b = north_america_b + south_america_b + europe_b + west_asia_b + africa_b + east_asia_pacific_b + no_data_b
df = pd.DataFrame({"country": countries, "A": values_a, "B": values_b})

palette = sns.color_palette(class_colors)
border_color = "#d8d8d8"

fig = plt.figure(figsize=(6.79, 7.27), dpi=100)
W, H = 679, 727


def draw_panel(letter, max_value, ticks, offset):
    # map axes: plate carree, 672 px for 360 degrees
    ax = fig.add_axes([3.5 / W, 1 - (354 + offset) / H, 672 / W, 336 / H])
    step = max_value / len(palette)
    for _, row in df.iterrows():
        if np.isnan(row[letter]):
            face = "white"
        else:
            face = palette[min(int(row[letter] // step), len(palette) - 1)]
        for ring in outlines[row["country"]]:
            lon, lat = zip(*ring)
            ax.fill(lon, lat, facecolor=face, edgecolor=border_color, linewidth=0.3, clip_on=False,
                    zorder=1 if face == "white" else 2)
    ax.set_xlim(-180, 180)
    ax.set_ylim(-90, 90)
    ax.axis("off")

    # colour key drawn as a one row heatmap
    cax = fig.add_axes([71 / W, 1 - (316.7 + offset) / H, 538 / W, 9 / H])
    key = np.arange(len(palette)).reshape(1, -1)
    sns.heatmap(key, cmap=ListedColormap(palette), cbar=False, ax=cax, xticklabels=False, yticklabels=False)
    cax.set_xticks(range(len(ticks)))
    cax.set_xticklabels([str(t) for t in ticks], fontsize=9.2, color="#222222", rotation=0)
    cax.tick_params(axis="x", bottom=True, length=6.6, width=0.8, color="#444444", pad=10)
    cax.tick_params(axis="y", left=False)
    sns.despine(ax=cax, left=True, top=True, right=True, bottom=False)
    cax.spines["bottom"].set_color("#444444")
    cax.spines["bottom"].set_linewidth(0.7)
    cax.spines["bottom"].set_visible(True)


draw_panel("A", colorbar_max[0], colorbar_ticks_a, 0)
draw_panel("B", colorbar_max[1], colorbar_ticks_b, 369)

fig.text(4 / W, 1 - 10 / H, panel_letters[0], fontsize=11, fontweight="bold", color="black", va="center")
fig.text(4 / W, 1 - 395.5 / H, panel_letters[1], fontsize=11, fontweight="bold", color="black", va="center")

plt.savefig("out.png", dpi=100)
